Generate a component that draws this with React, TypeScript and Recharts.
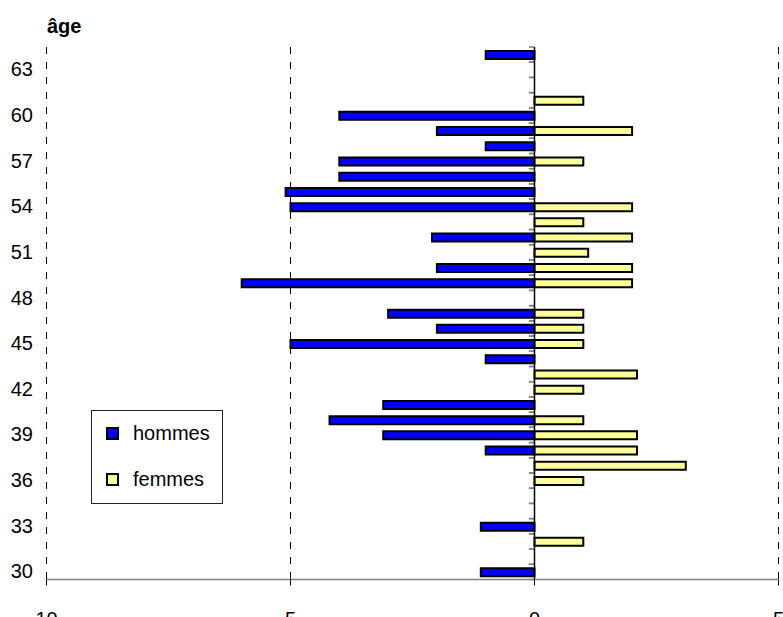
import React from 'react';
import { BarChart, Bar, XAxis, YAxis, CartesianGrid, ReferenceLine, ReferenceArea, Legend } from 'recharts';

const ages = [30, 31, 32, 33, 34, 35, 36, 37, 38, 39, 40, 41, 42, 43, 44, 45, 46, 47, 48, 49, 50, 51, 52, 53, 54, 55, 56, 57, 58, 59, 60, 61, 62, 63, 64];
const hommes = [1.1, 0, 0, 1.1, 0, 0, 0, 0, 1, 3.1, 4.2, 3.1, 0, 0, 1, 5, 2, 3, 0, 6, 2, 0, 2.1, 0, 5, 5.1, 4, 4, 1, 2, 4, 0, 0, 0, 1];
const femmes = [0, 0, 1, 0, 0, 0, 1, 3.1, 2.1, 2.1, 1, 0, 1, 2.1, 0, 1, 1, 1, 0, 2, 2, 1.1, 2, 1, 2, 0, 0, 1, 0, 2, 0, 1, 0, 0, 0];
const xTicks = [-10, -5, 0, 5];
const ageTicks = [30, 33, 36, 39, 42, 45, 48, 51, 54, 57, 60, 63];
const seriesOrder = ['hommes', 'femmes'];
const seriesNames = { hommes: 'hommes', femmes: 'femmes' };
const seriesColors = { hommes: '#0000FF', femmes: '#FFFF99' };
const axisTitle = 'âge';

const data = ages.map((age, i) => ({ age, hommes: -hommes[i], femmes: femmes[i] }));

const FONT = '"Liberation Sans", Arial, sans-serif';

const XTick = (props: any) => {
  const { x, y, payload } = props;
  return (
    <text x={x} y={y} dy={38.5} textAnchor="middle" fontSize={20} fontFamily={FONT} fill="#000">
      {Math.abs(payload.value)}
    </text>
  );
};

const YTick = (props: any) => {
  const { x, y, payload } = props;
  if (!ageTicks.includes(Number(payload.value))) return null;
  return (
    <text x={x} y={y} dy={6.5} textAnchor="end" fontSize={20} fontFamily={FONT} fill="#000">
      {payload.value}
    </text>
  );
};

// draws the small minor tick marks at the band edges of a category
const BandEdgeTicks = (props: any) => {
  const { x, y, width, height } = props;
  if ([x, y, width, height].some((v) => typeof v !== 'number' || isNaN(v))) return null;
  return (
    <g>
      <line x1={x} x2={x + width} y1={y} y2={y} stroke="#808080" strokeWidth={1.5} />
      <line x1={x} x2={x + width} y1={y + height} y2={y + height} stroke="#808080" strokeWidth={1.5} />
    </g>
  );
};

const LegendBox = (props: any) => {
  const payload = [...(props.payload || [])].sort(
    (a: any, b: any) => seriesOrder.indexOf(a.dataKey) - seriesOrder.indexOf(b.dataKey)
  );
  return (
    <div
      style={{
        width: 132,
        height: 94,
        border: '1px solid #222',
        boxSizing: 'border-box',
        background: '#fff',
        position: 'relative',
        fontFamily: FONT,
        fontSize: 20,
        color: '#000',
      }}
    >
      {payload.map((p: any, i: number) => (
        <div
          key={p.value}
          style={{ position: 'absolute', left: 14, top: 10 + i * 46, height: 24, display: 'flex', alignItems: 'center' }}
        >
          <span
            style={{
              display: 'inline-block',
              width: 13,
              height: 13,
              boxSizing: 'border-box',
              background: (seriesColors as any)[p.dataKey] || p.color,
              border: '2px solid #000',
            }}
          />
          <span style={{ marginLeft: 14, lineHeight: '24px' }}>{p.value}</span>
        </div>
      ))}
    </div>
  );
};

export default function App() {
  return (
    <div style={{ position: 'absolute', left: 0, top: 0, width: 783, height: 617, background: '#fff' }}>
      <div
        style={{
          position: 'absolute',
          left: 47,
          top: 16,
          fontFamily: FONT,
          fontWeight: 'bold',
          fontSize: 20,
          lineHeight: '20px',
          color: '#000',
        }}
      >
        {axisTitle}
      </div>
      <BarChart
        width={783}
        height={617}
        data={data}
        layout="vertical"
        stackOffset="sign"
        margin={{ top: 47, right: 4.5, left: 0, bottom: 0 }}
      >
        <CartesianGrid
          yAxisId="cat"
          horizontal={false}
          vertical={true}
          stroke="#000"
          strokeWidth={1}
          strokeDasharray="7 8"
          shapeRendering="crispEdges"
        />
        <XAxis
          type="number"
          domain={[-10, 5]}
          ticks={xTicks}
          interval={0}
          allowDataOverflow
          height={37.5}
          axisLine={{ stroke: '#808080', strokeWidth: 1.5 }}
          tickLine={{ stroke: '#000' }}
          tickSize={6}
          tickMargin={2}
          tick={<XTick />}
        />
        <YAxis
          yAxisId="cat"
          type="category"
          dataKey="age"
          reversed
          interval={0}
          width={46.5}
          axisLine={false}
          tickLine={false}
          tickSize={6}
          tickMargin={7.5}
          tick={<YTick />}
        />
        <Bar
          yAxisId="cat"
          dataKey="hommes"
          name={seriesNames.hommes}
          stackId="s"
          fill={seriesColors.hommes}
          stroke="#000"
          strokeWidth={2}
          barSize={8}
          isAnimationActive={false}
        />
        <Bar
          yAxisId="cat"
          dataKey="femmes"
          name={seriesNames.femmes}
          stackId="s"
          fill={seriesColors.femmes}
          stroke="#000"
          strokeWidth={2}
          barSize={8}
          isAnimationActive={false}
        />
        {ages.map((a) => (
          <ReferenceArea
            key={a}
            yAxisId="cat"
            y1={a}
            y2={a}
            x1={-0.115}
            x2={0}
            shape={<BandEdgeTicks />}
          />
        ))}
        <ReferenceLine yAxisId="cat" x={0} stroke="#000" strokeWidth={1.5} />
        <Legend
          layout="horizontal"
          verticalAlign="middle"
          align="center"
          content={<LegendBox />}
          wrapperStyle={{ left: 91, top: 410, width: 132, height: 94 }}
        />
      </BarChart>
    </div>
  );
}
